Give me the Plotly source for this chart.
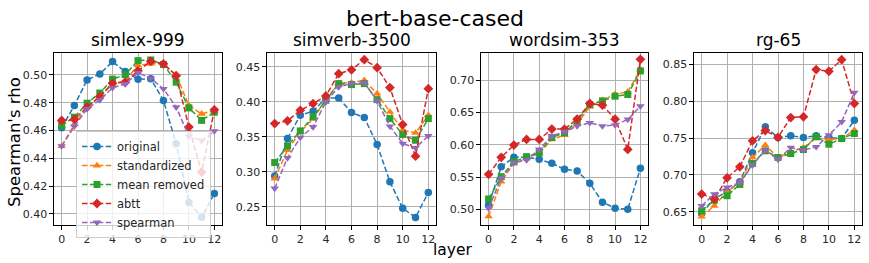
import plotly.graph_objects as go

layers = list(range(13))
series_names = ["original", "standardized", "mean removed", "abtt", "spearman"]
datasets = ["simlex-999", "simverb-3500", "wordsim-353", "rg-65"]

simlex_original = [0.462, 0.478, 0.4964, 0.5007, 0.5096, 0.5024, 0.4969, 0.4973, 0.4816, 0.4505, 0.4082, 0.3975, 0.4147]
simlex_standardized = [0.4488, 0.4644, 0.477, 0.484, 0.4935, 0.496, 0.507, 0.508, 0.508, 0.500, 0.478, 0.472, 0.4744]
simlex_mean_removed = [0.4636, 0.4696, 0.4797, 0.487, 0.497, 0.5002, 0.5103, 0.5108, 0.5075, 0.4948, 0.4763, 0.4673, 0.4732]
simlex_abtt = [0.4673, 0.468, 0.4768, 0.4845, 0.494, 0.4947, 0.503, 0.5098, 0.508, 0.4995, 0.4625, 0.430, 0.4749]
simlex_spearman = [0.4488, 0.463, 0.4756, 0.482, 0.4907, 0.4935, 0.5015, 0.4976, 0.490, 0.4768, 0.4558, 0.4529, 0.4596]

simverb_original = [0.294, 0.3476, 0.381, 0.3867, 0.4057, 0.4057, 0.3848, 0.3776, 0.339, 0.2857, 0.248, 0.2348, 0.2705]
simverb_standardized = [0.2905, 0.331, 0.357, 0.376, 0.403, 0.4271, 0.4276, 0.431, 0.412, 0.3857, 0.3595, 0.3557, 0.381]
simverb_mean_removed = [0.3133, 0.3371, 0.3586, 0.3786, 0.4024, 0.4262, 0.4248, 0.4262, 0.4033, 0.3762, 0.3533, 0.3452, 0.3762]
simverb_abtt = [0.369, 0.373, 0.388, 0.3976, 0.4086, 0.4405, 0.446, 0.4605, 0.449, 0.4205, 0.3676, 0.3224, 0.419]
simverb_spearman = [0.2762, 0.32, 0.349, 0.3643, 0.400, 0.4214, 0.4262, 0.4276, 0.4014, 0.3652, 0.3405, 0.3343, 0.3514]

wordsim_original = [0.5068, 0.566, 0.5805, 0.5805, 0.5774, 0.5712, 0.562, 0.5594, 0.5403, 0.511, 0.5017, 0.5002, 0.5635]
wordsim_standardized = [0.4889, 0.5429, 0.5712, 0.579, 0.5867, 0.6083, 0.615, 0.633, 0.6588, 0.669, 0.6784, 0.682, 0.7165]
wordsim_mean_removed = [0.5161, 0.5506, 0.5738, 0.5815, 0.5877, 0.6114, 0.6186, 0.6372, 0.6624, 0.668, 0.6753, 0.6779, 0.7144]
wordsim_abtt = [0.5543, 0.5805, 0.5996, 0.6083, 0.6083, 0.6243, 0.6243, 0.6397, 0.664, 0.6614, 0.6397, 0.5928, 0.7324]
wordsim_spearman = [0.5017, 0.5481, 0.5722, 0.5764, 0.5928, 0.6135, 0.6202, 0.629, 0.634, 0.629, 0.6305, 0.6392, 0.6598]

rg_original = [0.6477, 0.668, 0.677, 0.6906, 0.7299, 0.7651, 0.7507, 0.7529, 0.7507, 0.7529, 0.7507, 0.7493, 0.7741]
rg_standardized = [0.6432, 0.6581, 0.677, 0.6893, 0.7236, 0.7403, 0.7236, 0.7313, 0.7371, 0.7507, 0.748, 0.7493, 0.7606]
rg_mean_removed = [0.6513, 0.6658, 0.6717, 0.687, 0.7155, 0.7326, 0.7236, 0.729, 0.7344, 0.7516, 0.7416, 0.7493, 0.7561]
rg_abtt = [0.6739, 0.6671, 0.696, 0.711, 0.7462, 0.7601, 0.7507, 0.7778, 0.7787, 0.8428, 0.8405, 0.8563, 0.7967]
rg_spearman = [0.6581, 0.6739, 0.6829, 0.6897, 0.7132, 0.7335, 0.7209, 0.7371, 0.7335, 0.738, 0.7538, 0.7719, 0.8116]

panel_data = [
    [simlex_original, simlex_standardized, simlex_mean_removed, simlex_abtt, simlex_spearman],
    [simverb_original, simverb_standardized, simverb_mean_removed, simverb_abtt, simverb_spearman],
    [wordsim_original, wordsim_standardized, wordsim_mean_removed, wordsim_abtt, wordsim_spearman],
    [rg_original, rg_standardized, rg_mean_removed, rg_abtt, rg_spearman],
]

colors = ["#1f77b4", "#ff7f0e", "#2ca02c", "#d62728", "#9467bd"]
symbols = ["circle", "triangle-up", "square", "diamond", "triangle-down"]
sizes = [7.5, 7.5, 7, 7.5, 7.5]

W, H = 869, 263
ml, mr, mt, mb = 54, 7, 53, 38
pw = W - ml - mr
ph = H - mt - mb
px_domains = [(54, 222), (267, 436), (481, 648), (694, 862)]
domains = [((a - ml) / pw, (b - ml) / pw) for a, b in px_domains]
y_ranges = [(0.392, 0.5158), (0.224, 0.470), (0.4757, 0.7422), (0.632, 0.8653)]
y_dticks = [0.02, 0.05, 0.05, 0.05]

font = "DejaVu Sans"
fig = go.Figure()

for p in range(4):
    xa = "x" if p == 0 else f"x{p+1}"
    ya = "y" if p == 0 else f"y{p+1}"
    for s in range(5):
        fig.add_trace(go.Scatter(
            x=layers, y=panel_data[p][s], mode="lines+markers",
            name=series_names[s], legendgroup=series_names[s], showlegend=(p == 0),
            line=dict(color=colors[s], width=1.5, dash="5.5px,2.4px"),
            marker=dict(symbol=symbols[s], size=sizes[s], color=colors[s], line=dict(width=0)),
            xaxis=xa, yaxis=ya,
        ))

layout = dict(
    template="none",
    width=W, height=H,
    margin=dict(l=ml, r=mr, t=mt, b=mb, autoexpand=False),
    paper_bgcolor="white", plot_bgcolor="white",
    font=dict(family=font, size=11, color="#262626"),
    legend=dict(x=(76 - ml) / pw, y=(H - mb - 131) / ph, xanchor="left", yanchor="top",
                bgcolor="rgba(255,255,255,0.8)", bordercolor="#cccccc", borderwidth=1,
                font=dict(size=11.5, color="#262626"), tracegroupgap=0,
                itemwidth=30),
    annotations=[],
)

for p in range(4):
    xk = "xaxis" if p == 0 else f"xaxis{p+1}"
    yk = "yaxis" if p == 0 else f"yaxis{p+1}"
    ya = "y" if p == 0 else f"y{p+1}"
    xa = "x" if p == 0 else f"x{p+1}"
    layout[xk] = dict(domain=list(domains[p]), anchor=ya, range=[-0.6, 12.6], automargin=False,
                      tickmode="linear", tick0=0, dtick=2,
                      showgrid=True, gridcolor="#b0b0b0", gridwidth=1,
                      showline=True, linecolor="black", linewidth=1.2, mirror=True,
                      ticks="outside", ticklen=3.5, tickcolor="black",
                      tickfont=dict(size=11), zeroline=False)
    layout[yk] = dict(domain=[0, 1], anchor=xa, range=list(y_ranges[p]), automargin=False,
                      tickmode="linear", tick0=0, dtick=y_dticks[p], tickformat=".2f",
                      showgrid=True, gridcolor="#b0b0b0", gridwidth=1,
                      showline=True, linecolor="black", linewidth=1.2, mirror=True,
                      ticks="outside", ticklen=3.5, tickcolor="black",
                      tickfont=dict(size=11), zeroline=False)
    cx = (domains[p][0] + domains[p][1]) / 2
    layout["annotations"].append(dict(text=datasets[p], x=cx, y=1.0, xref="paper", yref="paper",
                                      xanchor="center", yanchor="bottom", yshift=1, showarrow=False,
                                      font=dict(size=17, color="black")))

layout["annotations"].append(dict(text="bert-base-cased", x=(435 - ml) / pw, y=1.0, xref="paper", yref="paper",
                                  xanchor="center", yanchor="bottom", yshift=20, showarrow=False,
                                  font=dict(size=22, color="black")))
layout["annotations"].append(dict(text="Spearman's rho", x=(14 - ml) / pw, y=(H - mb - 142) / ph,
                                  xref="paper", yref="paper", xanchor="center", yanchor="middle",
                                  textangle=-90, showarrow=False, font=dict(size=16.5, color="black")))
layout["annotations"].append(dict(text="layer", x=(453 - ml) / pw, y=(H - mb - 250) / ph,
                                  xref="paper", yref="paper", xanchor="center", yanchor="middle",
                                  showarrow=False, font=dict(size=15.5, color="black")))

fig.update_layout(**layout)
fig.write_html("out.html", config={"displayModeBar": False},
               post_script="document.body.style.margin='0';document.body.style.overflow='hidden';")
